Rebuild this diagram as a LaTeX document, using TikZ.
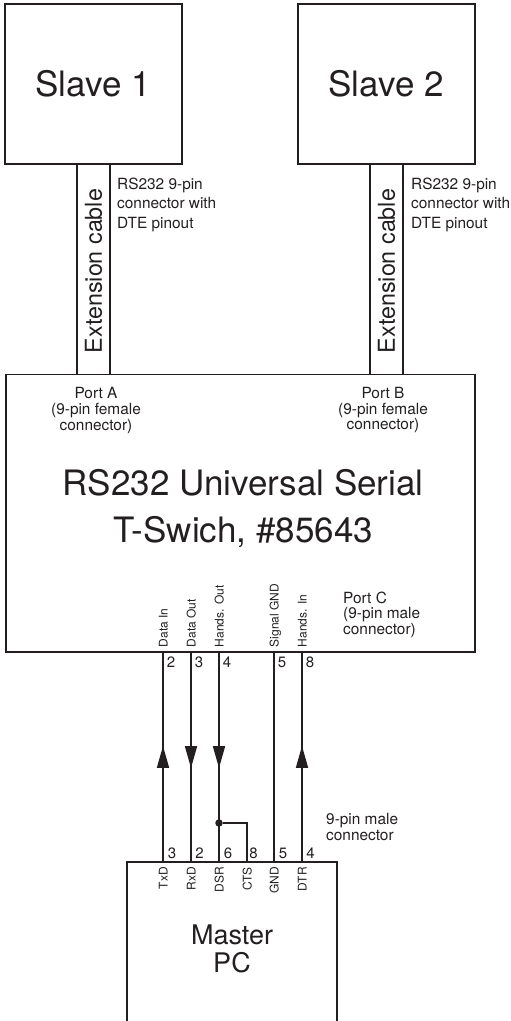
\documentclass[tikz,border=0pt]{standalone}
\usepackage{fontspec}
\setmainfont{TeX Gyre Heros}
\usetikzlibrary{arrows.meta,positioning,calc,decorations.markings}
\definecolor{inkdark}{HTML}{231F20}

\begin{document}
\begin{tikzpicture}[
        x=1pt, y=-1pt,
        node distance=116pt,
        every node/.style={text=inkdark},
        box/.style={draw=inkdark, line width=1.9pt, inner sep=0pt, outer sep=0pt, align=center},
        slave/.style={box, minimum width=177pt, minimum height=160pt, font=\fontsize{35}{38}\selectfont},
        title/.style={inner sep=0pt, align=center, font=\fontsize{35}{47}\selectfont},
        master/.style={inner sep=0pt, align=center, font=\fontsize{27}{28}\selectfont},
        cable/.style={inner sep=0pt, rotate=90, font=\fontsize{23.3}{28}\selectfont},
        note/.style={inner sep=0pt, align=left, anchor=north west, font=\fontsize{15.4}{19.6}\selectfont},
        port/.style={inner sep=0pt, align=center, anchor=north, font=\fontsize{15.4}{15.6}\selectfont},
        pin/.style={inner sep=0pt, font=\fontsize{15}{18}\selectfont},
        signal/.style={inner sep=0pt, rotate=90, text height=9pt, text depth=0pt, font=\fontsize{12}{14}\selectfont},
        wire/.style={draw=inkdark, line width=1.5pt},
        flow/.style={wire, postaction={decorate}, decoration={markings, mark=at position 0.553 with {\arrow{Triangle[length=22pt,width=12pt]}}}},
        dot/.style={circle, fill=inkdark, inner sep=0pt, minimum size=7.5pt}
    ]
        \useasboundingbox (0,0) rectangle (511,1021);

        % Row 1: Slaves
        \node[slave] (slave1) at (93.3,84) {Slave 1};
        \node[slave, right=of slave1] (slave2) {Slave 2};

        % T-switch
        \node[box, minimum width=469pt, minimum height=277.5pt] (tswitch) at (240.5,513.2) {};
        \node[title] (tswitchname) at (243,508) {RS232 Universal Serial\\T-Swich, \#85643};

        % Master PC (open at the bottom)
        \node[minimum width=210pt, minimum height=159pt, outer sep=0pt] (pc) at (232,941.5) {};
        \node[master] (pcname) at ($(pc.center)+(0,7)$) {Master\\PC};
        \draw[box] (pc.south west) -- (pc.north west) -- (pc.north east) -- (pc.south east);

        % Cable ends
        \coordinate (cableAl) at (77,164);
        \coordinate (cableAr) at (110,164);
        \coordinate (cableBl) at (370,164);
        \coordinate (cableBr) at (403,164);
        \coordinate (portAl) at (77,374.5);
        \coordinate (portAr) at (110,374.5);
        \coordinate (portBl) at (370,374.5);
        \coordinate (portBr) at (403,374.5);

        % Cables
        \draw[wire] (cableAl) -- (portAl);
        \draw[wire] (cableAr) -- (portAr);
        \draw[wire] (cableBl) -- (portBl);
        \draw[wire] (cableBr) -- (portBr);
        \node[cable] (cableA) at (93.5,271) {Extension cable};
        \node[cable] (cableB) at (386.5,271) {Extension cable};

        % Notes and ports
        \node[note] (noteA) at (117,177.5) {RS232 9-pin\\connector with\\DTE pinout};
        \node[note] (noteB) at (411,177.5) {RS232 9-pin\\connector with\\DTE pinout};
        \node[port] (portA) at (96,387.5) {Port A\\(9-pin female\\connector)};
        \node[port] (portB) at (383,387) {Port B\\(9-pin female\\connector)};
        \node[port, anchor=north west, align=left] (portC) at (343,591.5) {Port C\\(9-pin male\\connector)};
        \node[port, anchor=north west, align=left] (conn) at (326,813) {9-pin male\\connector};

        % Pins
        \coordinate (swA) at (163,652);
        \coordinate (swB) at (191,652);
        \coordinate (swC) at (219,652);
        \coordinate (swD) at (274,652);
        \coordinate (swE) at (302,652);
        \coordinate (pcA) at (163,862);
        \coordinate (pcB) at (191,862);
        \coordinate (pcC) at (219,862);
        \coordinate (pcF) at (247,862);
        \coordinate (pcD) at (274,862);
        \coordinate (pcE) at (302,862);

        % Wires
        \draw[flow] (pcA) -- (swA);
        \draw[flow] (swB) -- (pcB);
        \draw[flow] (swC) -- (pcC);
        \draw[wire, line width=2pt] (swD) -- (pcD);
        \draw[flow] (pcE) -- (swE);
        \node[dot] (loop) at (219,823) {};
        \draw[wire] (loop) -| (pcF);

        % Labels on the switch
        \node[signal, anchor=west] (dataIn) at ($(swA)+(0,-4.5)$) {Data In};
        \node[signal, anchor=west] (dataOut) at ($(swB)+(0,-4.5)$) {Data Out};
        \node[signal, anchor=west] (handsOut) at ($(swC)+(0,-4.5)$) {Hands. Out};
        \node[signal, anchor=west] (sigGnd) at ($(swD)+(0,-4.5)$) {Signal GND};
        \node[signal, anchor=west] (handsIn) at ($(swE)+(0,-4.5)$) {Hands. In};
        \node[pin] (swNa) at ($(swA)+(8,10)$) {2};
        \node[pin] (swNb) at ($(swB)+(8,10)$) {3};
        \node[pin] (swNc) at ($(swC)+(8,10)$) {4};
        \node[pin] (swNd) at ($(swD)+(8,10)$) {5};
        \node[pin] (swNe) at ($(swE)+(8,10)$) {8};

        % Labels on the PC
        \node[signal, anchor=east] (txd) at ($(pcA)+(0,5)$) {TxD};
        \node[signal, anchor=east] (rxd) at ($(pcB)+(0,5)$) {RxD};
        \node[signal, anchor=east] (dsr) at ($(pcC)+(0,5)$) {DSR};
        \node[signal, anchor=east] (cts) at ($(pcF)+(0,5)$) {CTS};
        \node[signal, anchor=east] (gnd) at ($(pcD)+(0,5)$) {GND};
        \node[signal, anchor=east] (dtr) at ($(pcE)+(0,5)$) {DTR};
        \node[pin] (pcNa) at ($(pcA)+(9,-9)$) {3};
        \node[pin] (pcNb) at ($(pcB)+(8.5,-9)$) {2};
        \node[pin] (pcNc) at ($(pcC)+(9,-9)$) {6};
        \node[pin] (pcNf) at ($(pcF)+(6.5,-9)$) {8};
        \node[pin] (pcNd) at ($(pcD)+(9,-9)$) {5};
        \node[pin] (pcNe) at ($(pcE)+(8.5,-9)$) {4};
    \end{tikzpicture}
\end{document}
